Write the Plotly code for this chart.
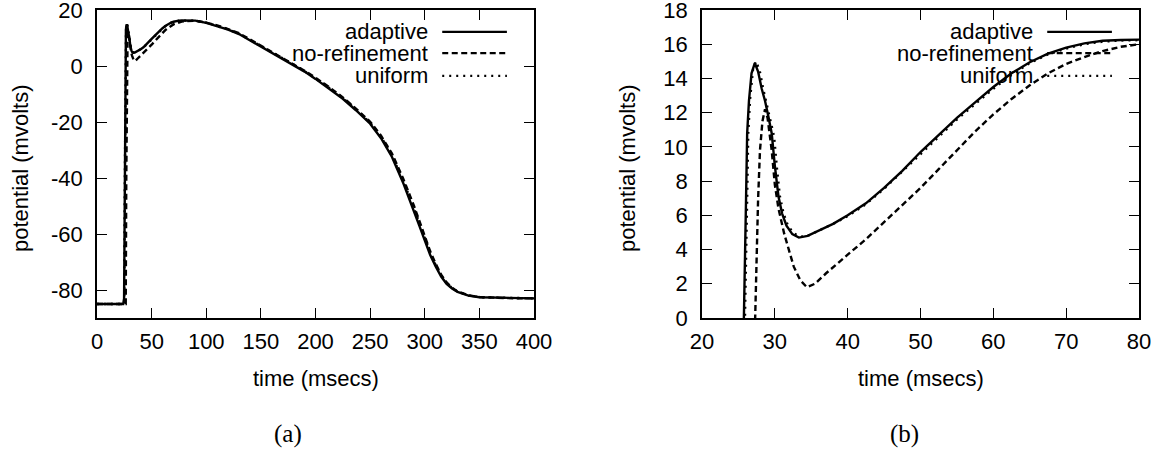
import plotly.graph_objects as go

# ---------------- data ----------------
series_names = ["adaptive", "no-refinement", "uniform"]

t_adaptive = [0, 20, 24.0, 24.8, 25.3, 25.75, 26.05, 26.2, 26.45, 26.8, 27.25, 27.7, 28.2, 28.65,
              29.1, 29.57, 30.0, 30.5, 31.0, 31.6, 32.4, 33.3, 34.5, 36, 38, 40, 42.5, 45, 47.5,
              50, 52.5, 55, 57.5, 60, 62.5, 65, 67.5, 70, 72.5, 75, 77.5, 80, 85, 90, 100, 110,
              120, 130, 140, 150, 160, 170, 180, 190, 200, 212, 225, 237, 250, 260, 270, 280,
              290, 295, 300, 305, 310, 315, 320, 325, 330, 340, 350, 375, 400]
v_adaptive = [-85, -85, -85, -83, -50, 0, 7, 10.8, 12.7, 14.3, 14.9, 14.4, 13.4, 12.7,
              11.8, 10.8, 8.9, 7.1, 6.1, 5.4, 4.9, 4.7, 4.8, 5.1, 5.5, 6.0, 6.7, 7.6, 8.6,
              9.7, 10.7, 11.7, 12.6, 13.5, 14.3, 14.95, 15.45, 15.8, 16.05, 16.2, 16.25, 16.27,
              16.3, 16.2, 15.4, 14.3, 13.0, 11.4, 9.2, 7.0, 4.9, 2.7, 0.4, -2.0, -4.6, -7.9,
              -11.7, -15.8, -20.6, -25.8, -32.5, -41.5, -51.5, -57.0, -62.3, -67.5, -71.6,
              -75.2, -77.8, -79.5, -80.7, -82.0, -82.6, -82.9, -83.0]

t_norefine = [0, 20, 26.3, 26.8, 27.3, 27.7, 27.96, 28.3, 28.65, 29.0, 29.57, 30.0, 30.5, 31.3,
              32.0, 32.6, 33.5, 34.4, 35.5, 37, 40, 42.5, 45, 47.5, 50, 52.5, 55, 57.5, 60,
              62.5, 65, 67.5, 70, 72.5, 75, 77.5, 80, 85, 90, 100, 110, 120, 130, 140, 150,
              160, 170, 180, 190, 200, 212, 225, 237, 250, 260, 270, 280, 290, 295, 300, 305,
              310, 315, 320, 325, 330, 340, 350, 375, 400]
v_norefine = [-85, -85, -85, -40, 0, 6.9, 9.8, 11.5, 12.2, 11.7, 9.8, 7.8, 6.4, 4.9,
              3.8, 3.0, 2.2, 1.8, 2.0, 2.6, 3.7, 4.6, 5.6, 6.6, 7.6, 8.7, 9.8, 10.9, 11.9,
              12.8, 13.6, 14.3, 14.85, 15.25, 15.6, 15.85, 16.0, 16.15, 16.15, 15.5, 14.5,
              13.2, 11.7, 9.5, 7.3, 5.2, 3.0, 0.7, -1.7, -4.2, -7.4, -11.2, -15.2, -19.9,
              -24.9, -31.3, -40.0, -49.8, -55.3, -60.8, -66.2, -70.6, -74.5, -77.3, -79.2,
              -80.5, -81.9, -82.5, -82.9, -83.0]

t_uniform = [0, 20, 24.9, 25.4, 25.9, 26.2, 26.35, 26.6, 27.0, 27.4, 27.9, 28.4, 28.85, 29.35,
             29.9, 30.3, 30.7, 31.2, 31.8, 32.6, 33.5, 34.5, 36, 38, 40, 42.5, 45, 47.5, 50,
             52.5, 55, 57.5, 60, 62.5, 65, 67.5, 70, 72.5, 75, 77.5, 80, 85, 90, 100, 110, 120,
             130, 140, 150, 160, 170, 180, 190, 200, 212, 225, 237, 250, 260, 270, 280, 290,
             295, 300, 305, 310, 315, 320, 325, 330, 340, 350, 375, 400]
v_uniform = [-85, -85, -85, -45, 0, 7, 10.8, 12.8, 14.5, 15.0, 14.5, 13.4, 12.6, 11.7,
             10.6, 8.7, 7.1, 6.1, 5.4, 4.95, 4.75, 4.8, 5.1, 5.5, 5.95, 6.65, 7.55, 8.55, 9.6,
             10.6, 11.6, 12.5, 13.4, 14.2, 14.9, 15.4, 15.75, 16.0, 16.15, 16.22, 16.25,
             16.28, 16.2, 15.45, 14.4, 13.1, 11.5, 9.35, 7.15, 5.05, 2.85, 0.55, -1.85, -4.4,
             -7.65, -11.45, -15.5, -20.25, -25.35, -31.9, -40.8, -50.6, -56.1, -61.5, -66.8,
             -71.1, -74.8, -77.5, -79.3, -80.6, -81.95, -82.55, -82.9, -83.0]

x_ticks_a = [0, 50, 100, 150, 200, 250, 300, 350, 400]
y_ticks_a = [-80, -60, -40, -20, 0, 20]
x_ticks_b = [20, 30, 40, 50, 60, 70, 80]
y_ticks_b = [0, 2, 4, 6, 8, 10, 12, 14, 16, 18]

x_title = "time (msecs)"
y_title = "potential (mvolts)"
captions = ["(a)", "(b)"]

# ---------------- figure ----------------
W, H = 1168, 459
FONT = "Liberation Sans, Arial, Helvetica, sans-serif"
FS = 22
dashes = ["solid", "6px,3.5px", "2px,5px"]
series = [(t_adaptive, v_adaptive), (t_norefine, v_norefine), (t_uniform, v_uniform)]

fig = go.Figure()
for ax in ("", "2"):
    for name, (tt, vv), d in zip(series_names, series, dashes):
        fig.add_trace(go.Scatter(
            x=tt, y=vv, mode="lines", name=name, showlegend=False,
            xaxis="x" + ax, yaxis="y" + ax,
            line=dict(color="black", width=2.4, dash=d)))

def lab(v):
    return ("-" if v < 0 else "") + str(abs(v))

ydom = [(H - 318) / H, (H - 10) / H]
common = dict(showline=True, linecolor="black", linewidth=1.5, mirror="ticks",
              ticks="inside", ticklen=10, tickwidth=1.3, tickcolor="black",
              showgrid=False, zeroline=False, automargin=False,
              ticklabeloverflow="allow",
              tickfont=dict(family=FONT, size=FS, color="black"))

fig.update_layout(
    width=W, height=H, margin=dict(l=0, r=0, t=0, b=0),
    paper_bgcolor="white", plot_bgcolor="white", showlegend=False,
    xaxis=dict(domain=[97 / W, 534 / W], range=[0, 400], tickvals=x_ticks_a,
               ticktext=[lab(v) for v in x_ticks_a],
               anchor="y", ticklabelstandoff=3, **common),
    yaxis=dict(domain=ydom, range=[-90, 20], tickvals=y_ticks_a,
               ticktext=[lab(v) for v in y_ticks_a],
               anchor="x", ticklabelstandoff=8, **common),
    xaxis2=dict(domain=[702 / W, 1139 / W], range=[20, 80], tickvals=x_ticks_b,
                ticktext=[lab(v) for v in x_ticks_b],
                anchor="y2", ticklabelstandoff=3, **common),
    yaxis2=dict(domain=ydom, range=[0, 18], tickvals=y_ticks_b,
                ticktext=[lab(v) for v in y_ticks_b],
                anchor="x2", ticklabelstandoff=8, **common),
)

ann = []
shapes = []
for i, (xa, ya, xc_title, xc_cap, ytx) in enumerate([
        ("x", "y", 315.5, 288, 20), ("x2", "y2", 920.5, 904, 627)]):
    ann.append(dict(text=x_title, xref="paper", yref="paper", x=xc_title / W,
                    y=(H - 378) / H, xanchor="center", yanchor="middle", showarrow=False,
                    font=dict(family=FONT, size=FS, color="black")))
    ann.append(dict(text=y_title, xref="paper", yref="paper", x=ytx / W,
                    y=(H - 168) / H, xanchor="center", yanchor="middle", textangle=-90,
                    showarrow=False, font=dict(family=FONT, size=FS, color="black")))
    ann.append(dict(text=captions[i], xref="paper", yref="paper", x=xc_cap / W,
                    y=(H - 434) / H, xanchor="center", yanchor="middle", showarrow=False,
                    font=dict(family="Liberation Serif, DejaVu Serif, serif", size=25,
                              color="black")))
    for name, d, yy in zip(series_names, dashes, [0.929, 0.860, 0.786]):
        ann.append(dict(text=name, xref=xa + " domain", yref=ya + " domain", x=0.762,
                        y=yy, xanchor="right", yanchor="middle", showarrow=False,
                        font=dict(family=FONT, size=FS, color="black")))
        shapes.append(dict(type="line", xref=xa + " domain", yref=ya + " domain",
                           x0=0.79, x1=0.938, y0=yy, y1=yy,
                           line=dict(color="black", width=2.4, dash=d)))

fig.update_layout(annotations=ann, shapes=shapes)
fig.write_html("out.html", config={"displayModeBar": False},
               post_script="document.body.style.margin='0';document.body.style.overflow='hidden';")
